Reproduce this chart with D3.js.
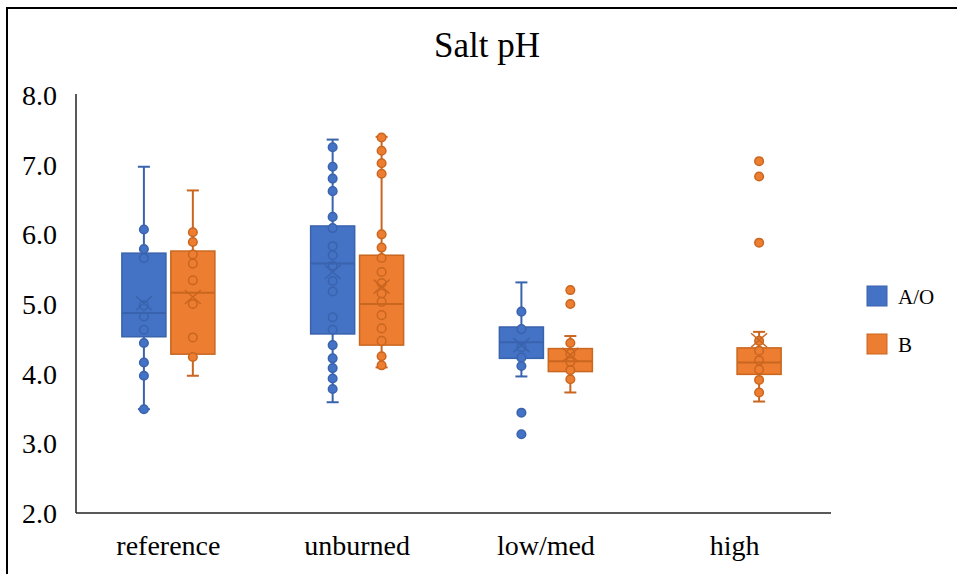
<!DOCTYPE html>
<html lang="en">

<head>
  <meta charset="UTF-8">
  <title>Salt pH</title>
  <style>
    body {
      margin: 0;
      background: #fff;
    }
  </style>
</head>

<body>
  <div id="plot"></div>

  <script src="https://cdn.jsdelivr.net/npm/d3@7/dist/d3.min.js"></script>
  <script>
    const categories = ['reference', 'unburned', 'low/med', 'high'];
    const series = ['A/O', 'B'];
    const yTicks = [2, 3, 4, 5, 6, 7, 8];

    // box stats per category: [whisker low, q1, median, q3, whisker high, mean]
    const aoBoxes = [
      [3.49, 4.53, 4.87, 5.73, 6.97, 5.01],
      [3.59, 4.57, 5.58, 6.12, 7.36, 5.46],
      [3.96, 4.22, 4.45, 4.67, 5.31, 4.41],
      null
    ];
    const bBoxes = [
      [3.97, 4.28, 5.16, 5.76, 6.63, 5.10],
      [4.09, 4.41, 5.00, 5.70, 7.40, 5.25],
      [3.73, 4.03, 4.18, 4.36, 4.54, 4.27],
      [3.60, 3.99, 4.16, 4.37, 4.60, 4.48]
    ];

    // individual points per category
    const aoPoints = [
      [6.07, 5.79, 5.66, 4.98, 4.82, 4.63, 4.44, 4.16, 3.97, 3.49],
      [7.25, 6.97, 6.80, 6.62, 6.25, 6.09, 5.83, 5.70, 5.55, 5.33, 5.18, 4.81, 4.63, 4.41, 4.22, 4.08, 3.93, 3.78],
      [4.89, 4.64, 4.38, 4.23, 4.11, 3.44, 3.13],
      []
    ];
    const bPoints = [
      [6.03, 5.89, 5.71, 5.58, 5.34, 5.00, 4.52, 4.24],
      [7.39, 7.20, 7.02, 6.87, 6.00, 5.81, 5.66, 5.46, 5.30, 5.15, 5.03, 4.84, 4.65, 4.47, 4.25, 4.12],
      [5.20, 5.00, 4.44, 4.29, 4.17, 4.05, 3.92],
      [7.05, 6.83, 5.88, 4.47, 4.33, 4.19, 4.06, 3.91, 3.73]
    ];

    const fills = ['#4472C4', '#ED7D31'];
    const strokes = ['#3A63AE', '#C9661F'];
    const serif = 'Liberation Serif';

    let width = 957, height = 574;

    let svg = d3.select('#plot').append('svg')
      .attr('width', width)
      .attr('height', height);

    // outer chart frame (only top and left edges are in view)
    svg.append('rect')
      .attr('x', 7)
      .attr('y', 8)
      .attr('width', 1000)
      .attr('height', 600)
      .attr('fill', 'none')
      .attr('stroke', '#000')
      .attr('stroke-width', 2);

    let xScale = d3.scaleBand()
      .domain(categories)
      .range([74, 829]);
    let xInner = d3.scaleBand()
      .domain(series)
      .range([-46.5, 46.5])
      .paddingInner(0.1);
    let yScale = d3.scaleLinear()
      .domain([2, 8])
      .range([513, 95]);

    svg.append('text')
      .attr('x', 487)
      .attr('y', 57)
      .attr('font-family', serif)
      .attr('font-size', 35)
      .attr('text-anchor', 'middle')
      .text('Salt pH');

    // axes without tick marks
    let yAxis = d3.axisLeft(yScale)
      .tickValues(yTicks)
      .tickSize(0)
      .tickPadding(19)
      .tickFormat(d3.format('.1f'));
    let yAxisGroup = svg.append('g')
      .attr('transform', 'translate(76,0)')
      .call(yAxis);
    yAxisGroup.selectAll('text')
      .attr('font-family', serif)
      .attr('font-size', 28)
      .attr('fill', '#000')
      .attr('dy', '0.34em');

    let xAxis = d3.axisBottom(xScale)
      .tickSize(0)
      .tickPadding(22);
    let xAxisGroup = svg.append('g')
      .attr('transform', 'translate(0,513)')
      .call(xAxis);
    xAxisGroup.selectAll('text')
      .attr('font-family', serif)
      .attr('font-size', 28)
      .attr('fill', '#000');
    xAxisGroup.select('.domain').remove();
    yAxisGroup.select('.domain').remove();

    svg.append('line')
      .attr('x1', 76).attr('x2', 76)
      .attr('y1', 94).attr('y2', 513)
      .attr('stroke', '#222').attr('stroke-width', 1.5);
    svg.append('line')
      .attr('x1', 76).attr('x2', 831)
      .attr('y1', 513).attr('y2', 513)
      .attr('stroke', '#222').attr('stroke-width', 1.5);

    let boxSets = [aoBoxes, bBoxes];
    let pointSets = [aoPoints, bPoints];
    let bw = xInner.bandwidth();

    series.forEach((s, si) => {
      let g = svg.append('g').attr('class', 'series');
      categories.forEach((c, ci) => {
        let box = boxSets[si][ci];
        let cx = xScale(c) + xScale.bandwidth() / 2 + xInner(s) + bw / 2;
        if (box) {
          let [lo, q1, med, q3, hi, mean] = box;
          // whiskers
          g.append('line')
            .attr('x1', cx).attr('x2', cx)
            .attr('y1', yScale(hi)).attr('y2', yScale(lo))
            .attr('stroke', strokes[si]).attr('stroke-width', 2);
          [lo, hi].forEach(v => {
            g.append('line')
              .attr('x1', cx - 6).attr('x2', cx + 6)
              .attr('y1', yScale(v)).attr('y2', yScale(v))
              .attr('stroke', strokes[si]).attr('stroke-width', 2);
          });
          g.append('rect')
            .attr('x', cx - bw / 2)
            .attr('y', yScale(q3))
            .attr('width', bw)
            .attr('height', yScale(q1) - yScale(q3))
            .attr('fill', fills[si])
            .attr('stroke', strokes[si])
            .attr('stroke-width', 1.5);
        }
        // points
        g.selectAll(null)
          .data(pointSets[si][ci])
          .enter().append('circle')
          .attr('cx', cx)
          .attr('cy', d => yScale(d))
          .attr('r', 4.3)
          .attr('fill', fills[si])
          .attr('stroke', strokes[si])
          .attr('stroke-width', 1.5);
        if (box) {
          let med = box[2], mean = box[5];
          g.append('line')
            .attr('x1', cx - bw / 2).attr('x2', cx + bw / 2)
            .attr('y1', yScale(med)).attr('y2', yScale(med))
            .attr('stroke', strokes[si]).attr('stroke-width', 2);
          // mean marker (x)
          let my = yScale(mean);
          g.append('path')
            .attr('d', `M${cx - 8},${my - 7}L${cx + 8},${my + 7}M${cx - 8},${my + 7}L${cx + 8},${my - 7}`)
            .attr('stroke', strokes[si])
            .attr('stroke-width', 1.5)
            .attr('fill', 'none');
        }
      });
    });

    // legend
    let legend = svg.append('g')
      .attr('transform', 'translate(867,286)');
    let items = legend.selectAll('.item')
      .data(series)
      .enter().append('g')
      .attr('class', 'item')
      .attr('transform', (d, i) => `translate(0,${i * 48})`);
    items.append('rect')
      .attr('width', 20)
      .attr('height', 20)
      .attr('fill', (d, i) => fills[i])
      .attr('stroke', (d, i) => strokes[i])
      .attr('stroke-width', 1);
    items.append('text')
      .attr('x', 31)
      .attr('y', 18)
      .attr('font-family', serif)
      .attr('font-size', 21)
      .text(d => d);
  </script>
</body>

</html>
